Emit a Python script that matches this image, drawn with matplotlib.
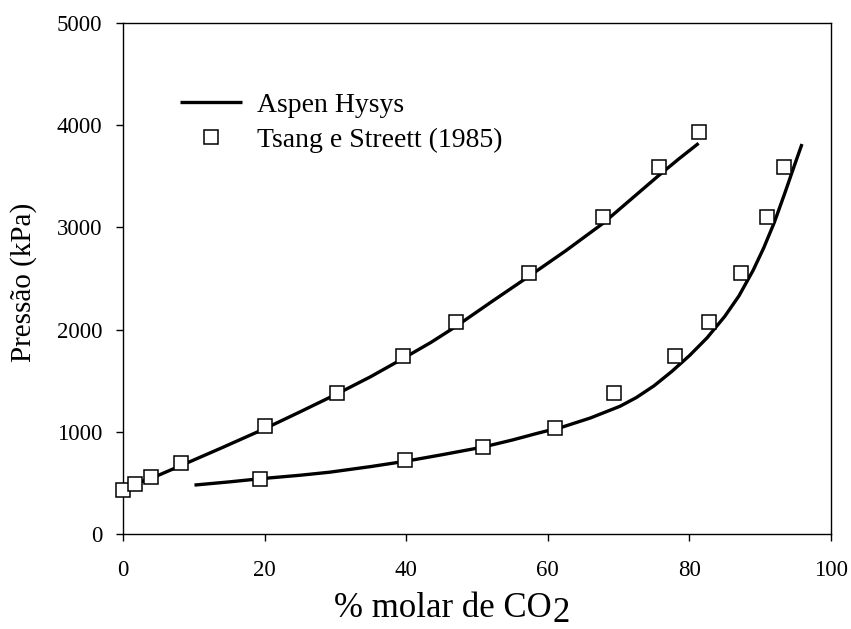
import numpy as np
import matplotlib
matplotlib.use('Agg')
import matplotlib.pyplot as plt

plt.rcParams['font.family'] = ['Liberation Serif', 'DejaVu Serif']


########## data ##########
# Aspen Hysys, bubble curve (upper) and dew curve (lower)
hysys_bub_x = [0.0, 1.7, 4.0, 8.2, 14.0, 20.0, 25.0, 30.2, 35.0, 39.5, 43.5, 47.0, 52.0, 57.3, 62.5, 67.8, 72.0, 75.7, 78.5, 81.3]
hysys_bub_y = [450, 490, 545, 670, 845, 1030, 1195, 1370, 1540, 1715, 1875, 2030, 2270, 2520, 2770, 3040, 3290, 3510, 3670, 3823]

hysys_dew_x = [10.1, 15.0, 19.4, 25.0, 29.2, 35.0, 39.9, 45.0, 50.8, 55.0, 58.5, 62.2, 66.0, 70.2,
               72.5, 75.0, 77.5, 80.0, 82.5, 85.0, 87.0, 89.0, 90.5, 92.0, 93.5, 94.8, 95.9]
hysys_dew_y = [479, 510, 541, 575, 605, 660, 712, 775, 850, 920, 985, 1050, 1135, 1250,
               1335, 1450, 1590, 1745, 1920, 2130, 2330, 2580, 2800, 3050, 3340, 3600, 3816]

# Tsang e Streett (1985)
tsang_bub_x = [0.0, 1.7, 4.0, 8.2, 20.0, 30.2, 39.5, 47.0, 57.3, 67.8, 75.7, 81.4]
tsang_bub_y = [430, 492, 561, 692, 1057, 1383, 1745, 2071, 2554, 3105, 3594, 3937]

tsang_dew_x = [19.4, 39.9, 50.8, 61.0, 69.4, 77.9, 82.8, 87.3, 90.9, 93.4]
tsang_dew_y = [541, 724, 854, 1034, 1383, 1745, 2071, 2554, 3105, 3594]

xticks = [0, 20, 40, 60, 80, 100]
yticks = [0, 1000, 2000, 3000, 4000, 5000]


########## figure ##########
fig = plt.figure(figsize=(8.51, 6.29), dpi=100)
ax = fig.add_axes([0.1445, 0.151, 0.832, 0.8124])

ax.plot(hysys_bub_x, hysys_bub_y, color='black', lw=2.4, solid_capstyle='butt', label='Aspen Hysys', zorder=2)
ax.plot(hysys_dew_x, hysys_dew_y, color='black', lw=2.4, solid_capstyle='butt', zorder=2)

mk = dict(linestyle='none', marker='s', markersize=10.5, markerfacecolor='white',
          markeredgecolor='black', markeredgewidth=1.1, zorder=3, clip_on=False)
ax.plot(tsang_bub_x, tsang_bub_y, label='Tsang e Streett (1985)', **mk)
ax.plot(tsang_dew_x, tsang_dew_y, **mk)

ax.set_xlim(0, 100)
ax.set_ylim(0, 5000)
ax.set_xticks(xticks)
ax.set_yticks(yticks)
ax.tick_params(axis='both', direction='out', length=5, width=1, labelsize=16.5)
ax.tick_params(axis='y', pad=10)
ax.tick_params(axis='x', pad=14)
for s in ax.spines.values():
    s.set_linewidth(1)

ax.set_ylabel('Pressão (kPa)', fontsize=21, va='center')
ax.yaxis.set_label_coords(-0.141, 0.493)

# x title: the "2" of CO2 is drawn full size and lowered, as in the source
fig.text(552 / 851, 12 / 629, '% molar de CO', fontsize=25, ha='right', va='baseline')
fig.text(552 / 851, 7 / 629, '2', fontsize=25, ha='left', va='baseline')

leg = ax.legend(loc='upper left', bbox_to_anchor=(0.08, 0.864), frameon=False,
                fontsize=20, handlelength=2.25, handletextpad=0.55,
                labelspacing=0.33, borderpad=0, borderaxespad=0)

fig.savefig('out.png', dpi=100)
